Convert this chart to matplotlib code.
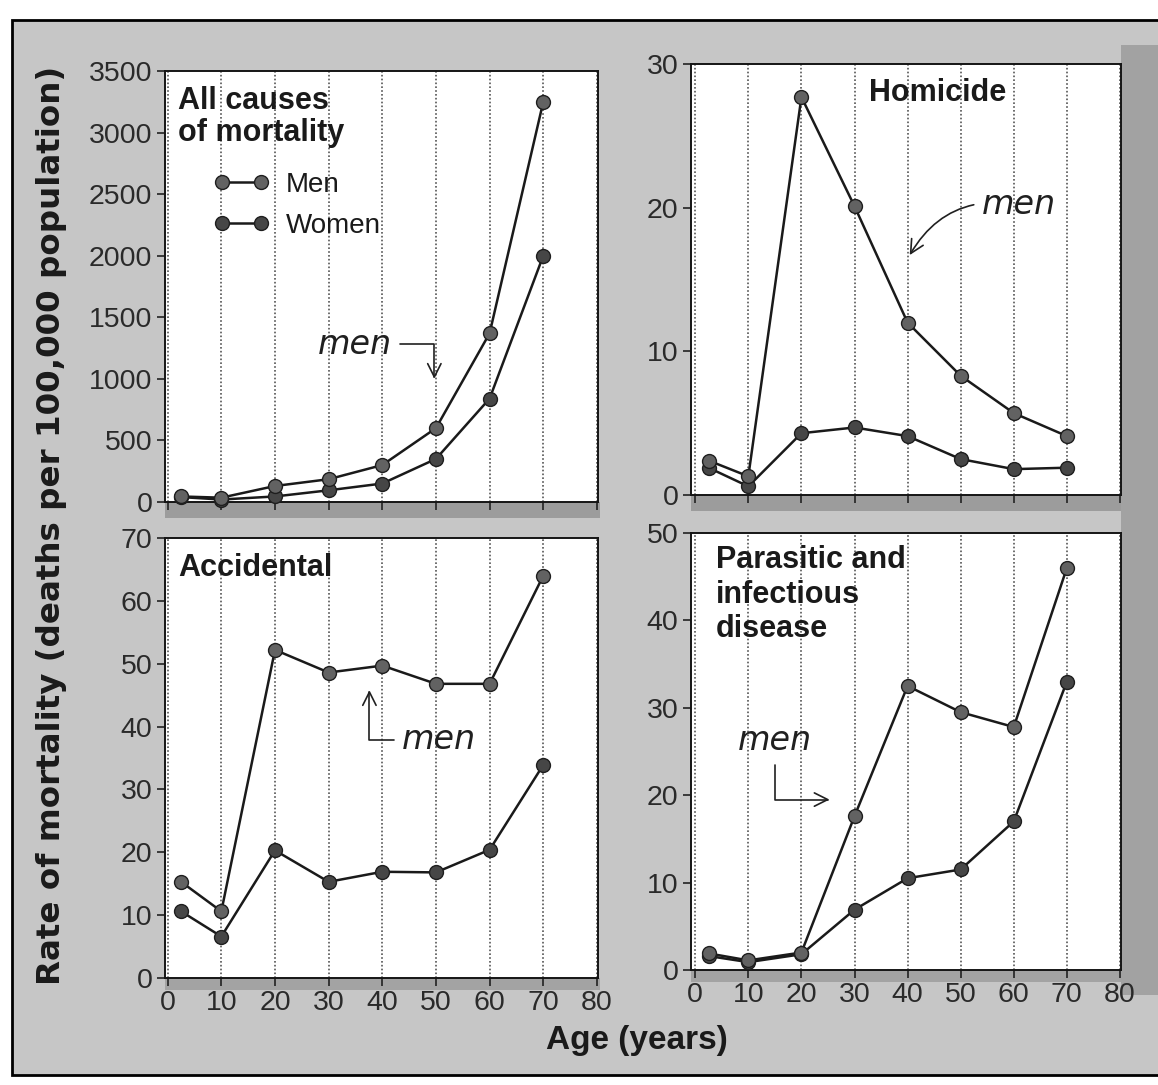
import matplotlib
matplotlib.use("Agg")
import matplotlib.pyplot as plt
from matplotlib.patches import Rectangle

# ---- data: mortality rate (deaths per 100,000) by age ----
ages = [2.5, 10, 20, 30, 40, 50, 60, 70]

all_men = [45, 35, 130, 185, 300, 600, 1370, 3250]
all_women = [40, 20, 45, 95, 150, 350, 840, 2000]

hom_men = [2.4, 1.3, 27.7, 20.1, 12.0, 8.3, 5.7, 4.1]
hom_women = [1.9, 0.6, 4.3, 4.7, 4.1, 2.5, 1.8, 1.9]

acc_men = [15.3, 10.6, 52.2, 48.6, 49.7, 46.8, 46.8, 64.0]
acc_women = [10.6, 6.6, 20.3, 15.3, 16.9, 16.8, 20.4, 33.9]

par_men = [1.9, 1.1, 2.0, 17.6, 32.5, 29.5, 27.8, 46.0]
par_women = [1.6, 0.9, 1.8, 6.9, 10.5, 11.5, 17.0, 33.0]

x_ticks = [0, 10, 20, 30, 40, 50, 60, 70, 80]
titles = ["All causes\nof mortality", "Homicide", "Accidental",
          "Parasitic and\ninfectious\ndisease"]
y_ticks = [list(range(0, 3501, 500)), [0, 10, 20, 30],
           list(range(0, 71, 10)), list(range(0, 51, 10))]

plt.rcParams["font.family"] = ["Liberation Sans", "DejaVu Sans"]

W, H = 1158, 1085
fig = plt.figure(figsize=(W / 100, H / 100), dpi=100)
fig.patch.set_facecolor("white")


def px_rect(x0, y0, x1, y1):
    """Figure-fraction rectangle from pixel corners (top-left origin)."""
    return [x0 / W, (H - y1) / H, (x1 - x0) / W, (y1 - y0) / H]


def backdrop(x0, y0, x1, y1, color, **kw):
    l, b, w, h = px_rect(x0, y0, x1, y1)
    fig.patches.append(Rectangle((l, b), w, h, transform=fig.transFigure,
                                 facecolor=color, zorder=-10, **kw))


# shaded page background with frame, plus darker shadow bands
backdrop(12, 20, 1170, 1075, "#c6c6c6", edgecolor="black", linewidth=2.0)
backdrop(1121, 45, 1158, 995, "#a2a2a2", linewidth=0)
backdrop(165, 502, 600, 518, "#9c9c9c", linewidth=0)
backdrop(691, 495, 1121, 511, "#9c9c9c", linewidth=0)
backdrop(165, 978, 600, 990, "#a3a3a3", linewidth=0)
backdrop(691, 970, 1121, 982, "#a3a3a3", linewidth=0)

boxes = [px_rect(165, 71, 598, 502), px_rect(691, 64, 1121, 495),
         px_rect(165, 538, 598, 978), px_rect(691, 533, 1121, 970)]
xlims = [(-0.5, 80.2), (-0.8, 80.2), (-0.5, 80.2), (-0.8, 80.2)]
series = [(all_men, all_women), (hom_men, hom_women),
          (acc_men, acc_women), (par_men, par_women)]

axes = []
for i, box in enumerate(boxes):
    ax = fig.add_axes(box)
    ax.set_facecolor("white")
    ax.set_xlim(*xlims[i])
    ax.set_ylim(y_ticks[i][0], y_ticks[i][-1])
    ax.set_xticks(x_ticks)
    ax.set_yticks(y_ticks[i])
    ax.xaxis.grid(True, linestyle=(0, (1, 1.3)), color="#555555", lw=1.2)
    ax.set_axisbelow(True)
    for s in ax.spines.values():
        s.set_linewidth(1.4)
        s.set_color("#151515")
    ax.tick_params(axis="both", direction="out", length=6, width=1.2,
                   colors="#222222", labelsize=20.5, pad=3)
    for lab in ax.get_xticklabels() + ax.get_yticklabels():
        lab.set_family(["Liberation Sans Narrow", "Liberation Sans"])
        lab.set_color("#2a2a2a")
    if i < 2:
        ax.tick_params(axis="x", labelbottom=False)

    men, women = series[i]
    ax.plot(ages, men, color="#1a1a1a", lw=1.8, marker="o", ms=10,
            mfc="#626262", mec="#1e1e1e", mew=1.0, clip_on=False,
            zorder=4, label="Men")
    ax.plot(ages, women, color="#1a1a1a", lw=1.8, marker="o", ms=10,
            mfc="#464646", mec="#1e1e1e", mew=1.0, clip_on=False,
            zorder=3, label="Women")
    axes.append(ax)

# panel titles
title_pos = [(0.03, 0.965), (0.415, 0.968), (0.03, 0.967), (0.057, 0.972)]
title_spacing = [1.08, 1.0, 1.0, 1.19]
for ax, t, (tx, ty), ls in zip(axes, titles, title_pos, title_spacing):
    ax.text(tx, ty, t, transform=ax.transAxes, ha="left", va="top",
            fontsize=22, fontweight="bold", color="#1a1a1a", linespacing=ls)

# legend in the first panel
leg = axes[0].legend(loc="upper left", bbox_to_anchor=(0.113, 0.766),
                     frameon=False, fontsize=20, numpoints=2,
                     handlelength=2.0, handletextpad=0.58,
                     labelspacing=0.55, borderpad=0, borderaxespad=0)
for txt in leg.get_texts():
    txt.set_color("#1a1a1a")

# handwritten "men" notes
note_kw = dict(fontsize=24, fontstyle="italic", color="#202020",
               family=["DejaVu Sans"], ha="center", va="center")
arrow_kw = dict(arrowstyle="->", color="#202020", lw=1.2,
                shrinkA=4, shrinkB=0)
axes[0].annotate("men", xy=(49.7, 1000), xytext=(34.8, 1280),
                 arrowprops=dict(connectionstyle="angle,angleA=0,angleB=90,rad=0",
                                 **arrow_kw), **note_kw)
axes[1].annotate("men", xy=(40.4, 16.7), xytext=(61.0, 20.2),
                 arrowprops=dict(connectionstyle="arc3,rad=0.35", **arrow_kw),
                 **note_kw)
axes[2].annotate("men", xy=(37.6, 45.8), xytext=(50.6, 37.9),
                 arrowprops=dict(connectionstyle="angle,angleA=0,angleB=90,rad=0",
                                 **arrow_kw), **note_kw)
axes[3].annotate("men", xy=(25.3, 19.5), xytext=(15.0, 26.3),
                 arrowprops=dict(connectionstyle="angle,angleA=90,angleB=0,rad=0",
                                 **arrow_kw), **note_kw)

# shared axis labels
fig.text(637 / W, 1 - 1041 / H, "Age (years)", ha="center", va="center",
         fontsize=24, fontweight="bold", color="#1a1a1a")
fig.text(52 / W, 1 - 525 / H,
         "Rate of mortality (deaths per 100,000 population)",
         ha="center", va="center", rotation=90, fontsize=23.4,
         fontweight="bold", color="#1a1a1a", family=["DejaVu Sans"])

fig.savefig("out.png", dpi=100)
